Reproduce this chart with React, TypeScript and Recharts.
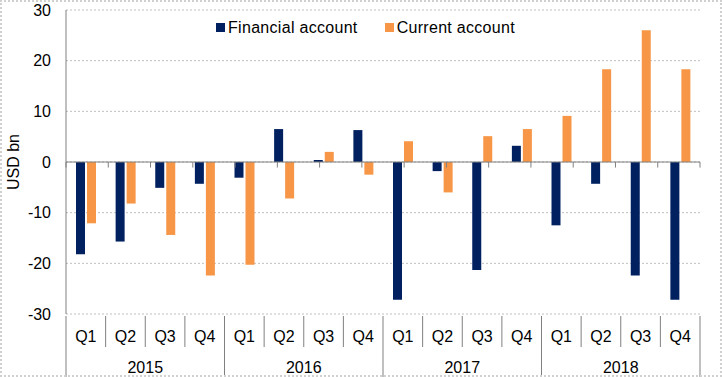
import React from 'react';
import {
  BarChart,
  Bar,
  XAxis,
  YAxis,
  CartesianGrid,
  ReferenceLine,
  Legend
} from 'recharts';

const years = ['2015', '2016', '2017', '2018'];
const quarters = ['Q1', 'Q2', 'Q3', 'Q4'];
const financialAccount = [-18.2, -15.7, -5.1, -4.3, -3.1, 6.5, 0.4, 6.3, -27.2, -1.8, -21.3, 3.2, -12.5, -4.3, -22.4, -27.2];
const currentAccount = [-12.1, -8.2, -14.4, -22.4, -20.3, -7.2, 2.0, -2.5, 4.1, -6.0, 5.1, 6.5, 9.1, 18.3, 26.0, 18.3];
const yTicks = [-30, -20, -10, 0, 10, 20, 30];

const NAVY = '#002060';
const ORANGE = '#F79646';
const AXIS = '#808080';
const FONT = '"Liberation Sans", Arial, sans-serif';

const WIDTH = 722;
const HEIGHT = 377;
const MARGIN = { top: 10, right: 22, bottom: 0, left: 0 };
const Y_WIDTH = 66;
const X_HEIGHT = 63;

const chartData = years.flatMap((year, yi) =>
  quarters.map((q, qi) => {
    const i = yi * 4 + qi;
    return {
      key: `${year}-${q}`,
      year,
      quarter: q,
      financial: financialAccount[i],
      current: currentAccount[i],
    };
  })
);

const plotWidth = WIDTH - MARGIN.left - MARGIN.right - Y_WIDTH;
const bandW = plotWidth / chartData.length;

const QuarterTick = (props: any) => {
  const { x, y, index } = props;
  const d = chartData[index];
  if (!d) return null;
  const left = x - bandW / 2;
  const right = x + bandW / 2;
  const yearStart = index % 4 === 0;
  return (
    <g>
      <text x={x} y={y + 26} textAnchor="middle" fontSize={16} fill="#000" fontFamily={FONT}>
        {d.quarter}
      </text>
      <line x1={left} x2={left} y1={y} y2={y + (yearStart ? 61 : 31)} stroke={AXIS} strokeWidth={1} />
      {index % 4 === 1 && (
        <text x={right} y={y + 57} textAnchor="middle" fontSize={16} fill="#000" fontFamily={FONT}>
          {d.year}
        </text>
      )}
      {index === chartData.length - 1 && (
        <line x1={right} x2={right} y1={y} y2={y + 61} stroke={AXIS} strokeWidth={1} />
      )}
    </g>
  );
};

const LegendContent = () => {
  const items = [
    { name: 'Financial account', color: NAVY },
    { name: 'Current account', color: ORANGE },
  ];
  return (
    <div style={{ display: 'flex', alignItems: 'center', fontFamily: FONT, fontSize: 16, letterSpacing: '0.3px', color: '#000', whiteSpace: 'nowrap', lineHeight: '18px' }}>
      {items.map((it, i) => (
        <div key={it.name} style={{ display: 'flex', alignItems: 'center', marginLeft: i === 0 ? 0 : 27 }}>
          <span style={{ display: 'inline-block', width: 9, height: 9, background: it.color, marginRight: 3, position: 'relative', top: -1 }} />
          <span>{it.name}</span>
        </div>
      ))}
    </div>
  );
};

const App: React.FC = () => {
  const boundaries = Array.from({ length: chartData.length + 1 }, (_, i) => i);
  return (
    <div style={{ position: 'relative', width: WIDTH, height: HEIGHT, background: '#fff' }}>
      <style>{`body{margin:0}`}</style>
      <BarChart
        width={WIDTH}
        height={HEIGHT}
        data={chartData}
        margin={MARGIN}
        barSize={9}
        barGap={2}
      >
        <CartesianGrid vertical={false} stroke="#BFBFBF" strokeDasharray="2 2" />
        <XAxis
          dataKey="key"
          height={X_HEIGHT}
          axisLine={false}
          tickLine={false}
          tickSize={0}
          interval={0}
          tick={<QuarterTick />}
        />
        <XAxis xAxisId="edge" type="number" domain={[0, chartData.length]} hide />
        <YAxis
          width={Y_WIDTH}
          domain={[-30, 30]}
          ticks={yTicks}
          interval={0}
          axisLine={{ stroke: AXIS }}
          tickLine={false}
          tickSize={0}
          tickMargin={15}
          tick={{ fontSize: 16, fill: '#000', fontFamily: FONT }}
          label={{ value: 'USD bn', angle: -90, position: 'insideLeft', offset: 13, style: { fontSize: 16, fill: '#000', fontFamily: FONT, textAnchor: 'middle' } }}
        />
        <Legend
          verticalAlign="middle"
          align="center"
          layout="horizontal"
          content={<LegendContent />}
          wrapperStyle={{ top: 19, left: 216, width: 'auto' }}
        />
        <Bar dataKey="financial" name="Financial account" fill={NAVY} isAnimationActive={false} />
        <Bar dataKey="current" name="Current account" fill={ORANGE} isAnimationActive={false} />
        <ReferenceLine y={0} stroke={AXIS} strokeWidth={1} />
        {boundaries.map((b) => (
          <ReferenceLine
            key={b}
            xAxisId="edge"
            segment={[{ x: b, y: 0 }, { x: b, y: -1.1 }]}
            stroke={AXIS}
            strokeWidth={1}
          />
        ))}
      </BarChart>
      <div style={{ position: 'absolute', inset: 0, border: '2px dotted #D0D0D0', boxSizing: 'border-box', pointerEvents: 'none' }} />
    </div>
  );
};

export default App;
